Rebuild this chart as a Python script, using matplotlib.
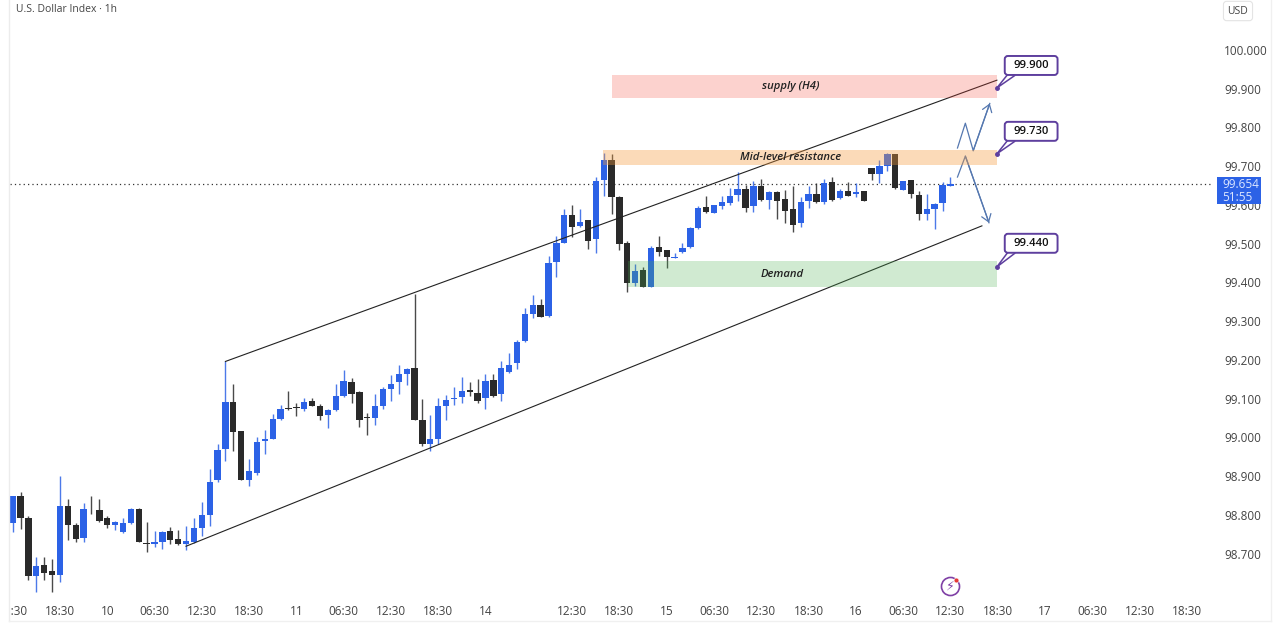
import matplotlib
matplotlib.use("Agg")
import matplotlib.pyplot as plt
from matplotlib.patches import Rectangle, FancyBboxPatch
from matplotlib.transforms import Bbox

plt.rcParams['font.family'] = ['Open Sans', 'DejaVu Sans']

# ------------------------------
# candles, one hour each
# ------------------------------
opens = [98.780, 98.849, 98.792, 98.641, 98.671, 98.656, 98.646, 98.822, 98.773, 98.741,
         98.816, 98.813, 98.791, 98.773, 98.755, 98.779, 98.815, 98.728, 98.726, 98.730,
         98.758, 98.738, 98.724, 98.730, 98.767, 98.800, 98.890, 98.970, 99.092, 99.017,
         98.891, 98.908, 98.990, 98.995, 99.048, 99.076, 99.079, 99.073, 99.094, 99.081,
         99.058, 99.070, 99.106, 99.143, 99.118, 99.051, 99.050, 99.081, 99.124, 99.142,
         99.164, 99.179, 99.044, 98.983, 98.995, 99.080, 99.100, 99.103, 99.122, 99.114,
         99.101, 99.149, 99.111, 99.169, 99.193, 99.248, 99.318, 99.341, 99.314, 99.452,
         99.503, 99.575, 99.545, 99.561, 99.511, 99.664, 99.716, 99.620, 99.501, 99.398,
         99.432, 99.389, 99.491, 99.483, 99.464, 99.478, 99.492, 99.540, 99.594, 99.580,
         99.597, 99.606, 99.626, 99.640, 99.596, 99.649, 99.613, 99.634, 99.616, 99.590,
         99.554, 99.609, 99.628, 99.608, 99.659, 99.619, 99.637, 99.627, 99.636, 99.695,
         99.681, 99.700, 99.731, 99.639, 99.665, 99.626, 99.577, 99.589, 99.606, 99.650]
highs = [98.849, 98.859, 98.796, 98.691, 98.691, 98.686, 98.901, 98.841, 98.779, 98.830,
         98.848, 98.841, 98.796, 98.784, 98.792, 98.819, 98.817, 98.781, 98.759, 98.759,
         98.769, 98.761, 98.772, 98.792, 98.834, 98.918, 98.983, 99.197, 99.138, 99.017,
         98.944, 99.002, 99.018, 99.061, 99.083, 99.120, 99.088, 99.102, 99.102, 99.087,
         99.073, 99.137, 99.173, 99.153, 99.119, 99.063, 99.112, 99.131, 99.161, 99.186,
         99.179, 99.370, 99.100, 99.058, 99.102, 99.109, 99.129, 99.155, 99.142, 99.151,
         99.164, 99.164, 99.198, 99.217, 99.252, 99.333, 99.367, 99.358, 99.467, 99.521,
         99.589, 99.600, 99.589, 99.561, 99.673, 99.735, 99.731, 99.624, 99.507, 99.448,
         99.439, 99.493, 99.520, 99.483, 99.475, 99.501, 99.544, 99.598, 99.624, 99.600,
         99.622, 99.643, 99.686, 99.652, 99.663, 99.666, 99.636, 99.637, 99.639, 99.649,
         99.620, 99.650, 99.656, 99.668, 99.671, 99.640, 99.659, 99.656, 99.636, 99.695,
         99.716, 99.735, 99.731, 99.663, 99.665, 99.637, 99.628, 99.604, 99.658, 99.671]
lows = [98.755, 98.764, 98.631, 98.600, 98.632, 98.601, 98.628, 98.736, 98.729, 98.731,
        98.801, 98.782, 98.765, 98.761, 98.754, 98.776, 98.729, 98.705, 98.718, 98.712,
        98.724, 98.722, 98.710, 98.727, 98.746, 98.772, 98.884, 98.938, 98.964, 98.891,
        98.875, 98.902, 98.956, 98.995, 99.044, 99.071, 99.056, 99.069, 99.080, 99.044,
        99.024, 99.069, 99.105, 99.090, 99.028, 99.007, 99.032, 99.073, 99.095, 99.112,
        99.135, 99.044, 98.977, 98.966, 98.983, 99.044, 99.084, 99.088, 99.107, 99.090,
        99.074, 99.104, 99.093, 99.165, 99.176, 99.247, 99.309, 99.310, 99.312, 99.413,
        99.503, 99.518, 99.544, 99.486, 99.475, 99.622, 99.577, 99.484, 99.374, 99.391,
        99.389, 99.389, 99.468, 99.438, 99.464, 99.477, 99.488, 99.537, 99.578, 99.578,
        99.589, 99.600, 99.611, 99.583, 99.583, 99.610, 99.589, 99.563, 99.553, 99.529,
        99.542, 99.593, 99.606, 99.603, 99.610, 99.616, 99.623, 99.620, 99.609, 99.665,
        99.656, 99.688, 99.641, 99.639, 99.619, 99.561, 99.561, 99.539, 99.585, 99.650]
closes = [98.849, 98.792, 98.643, 98.667, 98.651, 98.646, 98.822, 98.773, 98.738, 98.816,
          98.814, 98.784, 98.774, 98.782, 98.778, 98.815, 98.729, 98.724, 98.730, 98.755,
          98.734, 98.724, 98.732, 98.766, 98.800, 98.885, 98.968, 99.092, 99.013, 98.891,
          98.914, 98.989, 98.995, 99.047, 99.074, 99.072, 99.075, 99.092, 99.081, 99.056,
          99.071, 99.106, 99.146, 99.112, 99.044, 99.050, 99.081, 99.124, 99.137, 99.164,
          99.177, 99.044, 98.983, 98.996, 99.080, 99.096, 99.102, 99.119, 99.116, 99.093,
          99.145, 99.107, 99.179, 99.186, 99.247, 99.319, 99.341, 99.312, 99.450, 99.503,
          99.574, 99.544, 99.557, 99.508, 99.663, 99.716, 99.620, 99.500, 99.398, 99.429,
          99.389, 99.489, 99.478, 99.466, 99.466, 99.489, 99.541, 99.593, 99.582, 99.599,
          99.608, 99.624, 99.642, 99.593, 99.649, 99.613, 99.634, 99.609, 99.585, 99.547,
          99.607, 99.628, 99.607, 99.656, 99.613, 99.636, 99.624, 99.634, 99.609, 99.681,
          99.700, 99.731, 99.643, 99.662, 99.628, 99.577, 99.590, 99.602, 99.651, 99.654]

last_price = 99.654
price_ticks = [98.7, 98.8, 98.9, 99.0, 99.1, 99.2, 99.3, 99.4, 99.5, 99.6, 99.7, 99.8, 99.9, 100.0]
time_ticks = [0, 6, 12, 18, 24, 30, 36, 42, 48, 54, 60, 71, 77, 83, 89, 95, 101, 107, 113, 119, 125, 131, 137, 143, 149]
time_labels = ["12:30", "18:30", "10", "06:30", "12:30", "18:30", "11", "06:30", "12:30", "18:30", "14",
               "12:30", "18:30", "15", "06:30", "12:30", "18:30", "16", "06:30", "12:30", "18:30",
               "17", "06:30", "12:30", "18:30"]

# drawings on the chart
zone_names = ["supply (H4)", "Mid-level resistance", "Demand"]
zone_start = [76.1, 74.9, 78.1]
zone_end = [124.9, 124.9, 124.9]
zone_low = [99.876, 99.703, 99.388]
zone_high = [99.935, 99.742, 99.455]
zone_label_x = [98.8, 98.7, 97.6]
zone_colors = ["#f44336", "#f59a3c", "#4caf50"]
zone_alpha = [0.24, 0.36, 0.26]

upper_x = [27, 124.9]
upper_y = [99.196, 99.922]
lower_x = [22, 123]
lower_y = [98.719, 99.546]

up_x = [119.9, 120.9, 121.9, 124.0]
up_y = [99.747, 99.811, 99.740, 99.862]
down_x = [119.9, 120.9, 123.9]
down_y = [99.672, 99.726, 99.554]

callout_prices = [99.902, 99.732, 99.440]
callout_lift = [0.058, 0.058, 0.061]
callout_labels = ["99.900", "99.730", "99.440"]
callout_bar = 124.9

blue = "#2c62e6"
dark = "#2a2a2a"
purple = "#5e3f9e"
arrow_blue = "#5578b0"
W, H = 1280, 630

fig = plt.figure(figsize=(W / 100, H / 100), dpi=100, facecolor="white")
ax = fig.add_axes([10 / W, 1 - 597 / H, 1202 / W, 597 / H])
ax.set_xlim(-0.34, 152.2)
ax.set_ylim(98.588, 100.129)
for s in ax.spines.values():
    s.set_visible(False)

# ---- candles ----
for i in range(len(opens)):
    col = blue if closes[i] >= opens[i] else dark
    ax.vlines(i, lows[i], highs[i], color=col, lw=1, alpha=0.85, zorder=2)
    bottom = min(opens[i], closes[i])
    ax.bar(i, max(abs(closes[i] - opens[i]), 0.002), 0.8, bottom=bottom, color=col, lw=0, zorder=3)

ax.axhline(last_price, color="#333333", lw=0.9, ls=(0, (1, 2.5)), zorder=1)

# ---- trend lines and projected paths ----
ax.plot(upper_x, upper_y, color="#222222", lw=0.8, zorder=4)
ax.plot(lower_x, lower_y, color="#222222", lw=0.8, zorder=4)

for xs, ys in ((up_x, up_y), (down_x, down_y)):
    ax.plot(xs, ys, color=arrow_blue, lw=0.9, zorder=5)
    ax.annotate("", xy=(xs[-1], ys[-1]), xytext=(xs[-2], ys[-2]),
                arrowprops=dict(arrowstyle="->,head_length=0.5,head_width=0.35", color=arrow_blue,
                                lw=0.9, shrinkA=0, shrinkB=0, mutation_scale=10), zorder=5)

# ---- zones ----
for k in range(len(zone_names)):
    ax.add_patch(Rectangle((zone_start[k], zone_low[k]), zone_end[k] - zone_start[k],
                           zone_high[k] - zone_low[k], fc=zone_colors[k], ec="none",
                           alpha=zone_alpha[k], zorder=6))
    ax.text(zone_label_x[k], (zone_low[k] + zone_high[k]) / 2, zone_names[k], fontsize=8.1,
            style="italic", fontweight="semibold", color="#222222", ha="center", va="center", zorder=7)

# ---- callouts ----
for p, lift, lab in zip(callout_prices, callout_lift, callout_labels):
    mid = p + lift
    ax.plot([callout_bar], [p], "o", ms=2.5, color=purple, zorder=8)
    ax.annotate("", xy=(callout_bar, p), xytext=(126.9, mid - 0.02),
                arrowprops=dict(arrowstyle="wedge,tail_width=0.45,shrink_factor=0.5", fc="white",
                                ec=purple, lw=1.1, shrinkA=0, shrinkB=0), zorder=9)
    ax.add_patch(FancyBboxPatch((125.9, mid - 0.0245), 6.7, 0.049,
                                boxstyle="round,pad=0,rounding_size=0.4", mutation_aspect=0.0203,
                                fc="white", ec=purple, lw=1.4, zorder=10))
    ax.text(129.25, mid, lab, fontsize=8.1, fontweight="semibold", color="#111111",
            ha="center", va="center", zorder=11)

# ---- axes ----
ax.yaxis.tick_right()
ax.set_yticks(price_ticks)
ax.set_yticklabels([f"{p:.3f}" for p in price_ticks])
ax.tick_params(axis="y", length=0, pad=8.6, labelsize=8.5, labelcolor="#444444")
ax.set_xticks(time_ticks)
ax.set_xticklabels(time_labels)
ax.tick_params(axis="x", length=0, pad=6, labelsize=8.5, labelcolor="#444444")
# first label is cut by the pane edge
first = ax.get_xticklabels()[0]
first.set_clip_box(Bbox([[11, 0], [60, H]]))
first.set_clip_on(True)

# last price tag sits over the 99.600 label
tag_tf = ax.get_yaxis_transform()
ax.add_patch(Rectangle((1.0042, last_price - 0.0516), 0.0366, 0.0697, transform=tag_tf, fc=blue,
                       ec="none", clip_on=False, zorder=20))
ax.text(1.0084, last_price, "99.654", transform=tag_tf, fontsize=8.5, color="#dbe6ff",
        ha="left", va="center", clip_on=False, zorder=21)
ax.text(1.0084, last_price - 0.034, "51:55", transform=tag_tf, fontsize=8.5, color="#dbe6ff",
        ha="left", va="center", clip_on=False, zorder=21)

# ---- header, frame, icon ----
fig.text(16 / W, 1 - 9.5 / H, "U.S. Dollar Index · 1h", fontsize=7.5, color="#444444", va="center")
fig.text(1238 / W, 1 - 11 / H, "USD", fontsize=7.5, color="#444444", ha="center", va="center",
         bbox=dict(boxstyle="round,pad=0.4,rounding_size=0.3", fc="white", ec="#e4e4e4", lw=0.8))
fig.add_artist(plt.Line2D([9 / W, 9 / W], [1 - 621 / H, 1], color="#ececec", lw=1))
fig.add_artist(plt.Line2D([1271 / W, 1271 / W], [1 - 621 / H, 1], color="#f0f0f0", lw=1))
fig.add_artist(plt.Line2D([9 / W, 1271 / W], [1 - 621 / H, 1 - 621 / H], color="#f0f0f0", lw=1))
fig.add_artist(plt.Line2D([950 / W], [1 - 586 / H], marker="o", ms=13, mfc="white", mec="#7f3fa5", mew=1.2))
fig.text(950 / W, 1 - 586 / H, "\u26a1", family=["DejaVu Sans"], fontsize=9, color="#7f3fa5", ha="center", va="center")
fig.add_artist(plt.Line2D([956 / W], [1 - 579.5 / H], marker="o", ms=3.5, mfc="#e53935", mec="white", mew=0.4))

fig.savefig("out.png", dpi=100)
